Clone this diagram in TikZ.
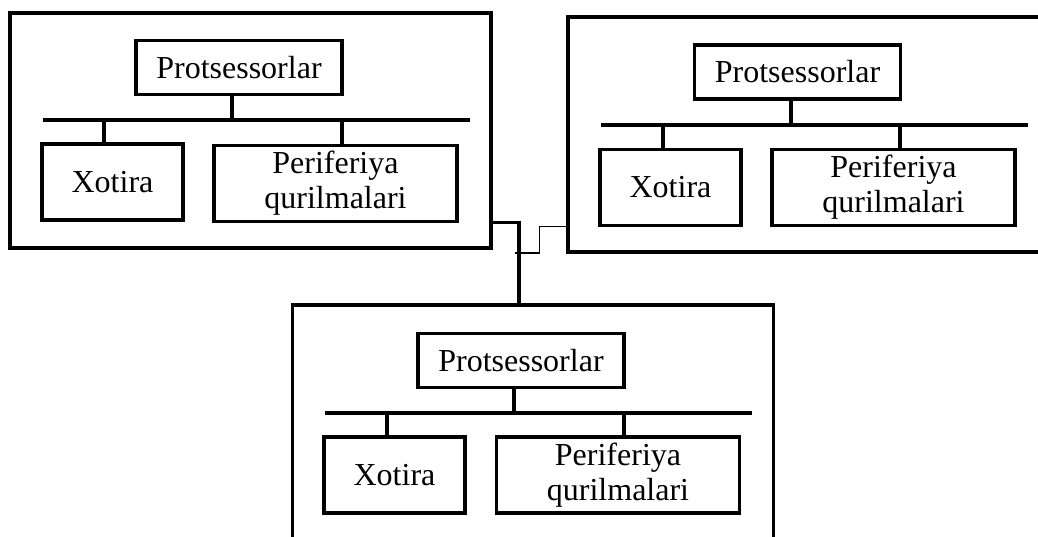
\documentclass[tikz,border=0pt]{standalone}
\usepackage{fontspec}
\setmainfont{Liberation Serif}
\usetikzlibrary{calc,positioning}

\begin{document}
\begin{tikzpicture}[x=0.5pt,y=-0.5pt]

\tikzset{system/.style={draw=black,line width=1.6pt,inner sep=0pt,minimum width=240.5pt,minimum height=117.5pt,shape=rectangle},
unit/.style={draw=black,line width=1.6pt,inner sep=0pt,minimum height=38pt,shape=rectangle,font=\fontsize{16}{17.5}\selectfont,align=center},
proc/.style={unit,minimum width=103pt,minimum height=27pt},
memory/.style={unit,minimum width=70.5pt},
periph/.style={unit,minimum width=121.5pt},
bus/.style={line width=1.6pt},
link/.style={line width=1.6pt},
thinlink/.style={line width=0.6pt}}

\clip (0,0) rectangle (1038,536);

% Left system
\node (sysA) [system] at (250.5,130.5) {};
\node (procA) [proc] at (239,67.5) {Protsessorlar};
\node (xotA) [memory] at (112.5,182) {Xotira};
\node (perA) [periph] at (335.5,183.5) {Periferiya\\qurilmalari};
\coordinate (busA1) at (43,120);
\coordinate (busA2) at (470,120);
\coordinate (tapA0) at (232,120);
\coordinate (tapA1) at (104,120);
\coordinate (tapA2) at (342,120);

% Right system
\node (sysB) [system] at (808.5,134.5) {};
\node (procB) [proc] at (797.5,72) {Protsessorlar};
\node (xotB) [memory] at (670.5,187.5) {Xotira};
\node (perB) [periph] at (893.5,187.5) {Periferiya\\qurilmalari};
\coordinate (busB1) at (601,125);
\coordinate (busB2) at (1028,125);
\coordinate (tapB0) at (791,125);
\coordinate (tapB1) at (663,125);
\coordinate (tapB2) at (900,125);

% Bottom system
\node (sysC) [system] at (533,422.5) {};
\node (procC) [proc] at (521,360.5) {Protsessorlar};
\node (xotC) [memory] at (394.5,475) {Xotira};
\node (perC) [periph] at (618,475) {Periferiya\\qurilmalari};
\coordinate (busC1) at (325,413);
\coordinate (busC2) at (752,413);
\coordinate (tapC0) at (514,413);
\coordinate (tapC1) at (387,413);
\coordinate (tapC2) at (624,413);

% Buses and taps
\draw[bus] (busA1) -- (busA2);
\draw[bus] (tapA0) -- (tapA0 |- procA.south);
\draw[bus] (tapA1) -- (tapA1 |- xotA.north);
\draw[bus] (tapA2) -- (tapA2 |- perA.north);

\draw[bus] (busB1) -- (busB2);
\draw[bus] (tapB0) -- (tapB0 |- procB.south);
\draw[bus] (tapB1) -- (tapB1 |- xotB.north);
\draw[bus] (tapB2) -- (tapB2 |- perB.north);

\draw[bus] (busC1) -- (busC2);
\draw[bus] (tapC0) -- (tapC0 |- procC.south);
\draw[bus] (tapC1) -- (tapC1 |- xotC.north);
\draw[bus] (tapC2) -- (tapC2 |- perC.north);

% Links between systems
\coordinate (joint) at (515,253);
\draw[link] ([yshift=13.5pt]sysA.south east) -| ([xshift=-7pt]sysC.north);
\draw[thinlink] ([yshift=13.5pt]sysB.south west) -- ++(-13.5pt,0) |- (joint);

\end{tikzpicture}
\end{document}
